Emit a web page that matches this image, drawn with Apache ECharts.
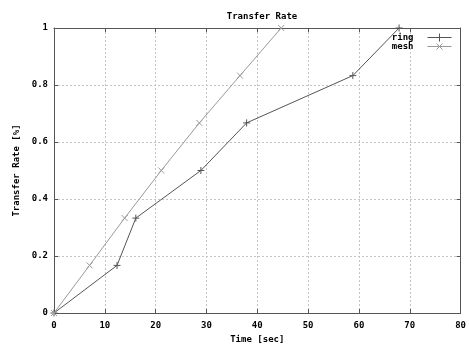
<!DOCTYPE html>
<html><head><meta charset="utf-8">
<script src="https://cdn.jsdelivr.net/npm/echarts@6/dist/echarts.min.js"></script>
<style>html,body{margin:0;padding:0;background:#fff}#c{width:469px;height:349px}</style>
</head><body><div id="c"></div>
<script>
var ringX = [0, 12.4, 16.1, 28.9, 37.9, 58.8, 67.9];
var ringY = [0, 0.167, 0.333, 0.5, 0.667, 0.833, 1];
var meshX = [0, 7.0, 13.9, 21.1, 28.6, 36.6, 44.7];
var meshY = [0, 0.167, 0.333, 0.5, 0.667, 0.833, 1];
var xTicks = [0, 10, 20, 30, 40, 50, 60, 70, 80];
var yTicks = [0, 0.2, 0.4, 0.6, 0.8, 1];
var seriesNames = ['ring', 'mesh'];

var FONT = 'DejaVu Sans Mono';
var plus = 'path://M0,5L10,5M5,0L5,10';
var cross = 'path://M0,0L10,10M0,10L10,0';
function pairs(xs, ys){ return xs.map(function(x,i){return [x, ys[i]];}); }
var chart = echarts.init(document.getElementById('c'), null, {renderer:'canvas'});
var lbl = {fontFamily: FONT, fontWeight: 'bold', fontSize: 9, color: '#000'};
var frame = {show: true, onZero: false, lineStyle: {color: '#555', width: 1}};
var tick = {show: true, inside: true, length: 4, lineStyle: {color: '#555'}};
chart.setOption({
  animation: false,
  title: {text: 'Transfer Rate', left: 257, top: 7, textAlign: 'center',
    textStyle: {fontFamily: FONT, fontWeight: 'bold', fontSize: 9, color: '#000'}},
  legend: {right: 10, top: 26, orient: 'vertical', align: 'right', itemWidth: 24, itemHeight: 8, itemGap: -3,
    textStyle: Object.assign({padding: [0, 9, 0, 0], lineHeight: 9}, lbl),
    data: [
      {name: seriesNames[0], icon: 'path://M0,5L24,5M12,1L12,9',
       itemStyle: {color: 'none', borderColor: '#555', borderWidth: 1}},
      {name: seriesNames[1], icon: 'path://M0,5L24,5M9,2L15,8M9,8L15,2',
       itemStyle: {color: 'none', borderColor: '#999', borderWidth: 1}}
    ]},
  grid: {left: 54, right: 8, top: 28, bottom: 28},
  xAxis: [{
    type: 'value', min: 0, max: 80, interval: 10,
    name: 'Time [sec]', nameLocation: 'middle', nameGap: 22,
    nameTextStyle: lbl,
    axisLine: frame, axisTick: tick,
    axisLabel: Object.assign({margin: 8, formatter: function(v){return xTicks.indexOf(v)>=0 ? String(v) : '';}}, lbl),
    splitLine: {show: true, lineStyle: {color: '#c4c4c4', type: [2,2], width: 1}}
  }, {
    type: 'value', min: 0, max: 80, interval: 10, position: 'top',
    axisLine: frame, axisTick: tick,
    axisLabel: {show: false}, splitLine: {show: false}
  }],
  yAxis: [{
    type: 'value', min: 0, max: 1, interval: 0.2,
    name: 'Transfer Rate [%]', nameLocation: 'middle', nameGap: 33, nameRotate: 90,
    nameTextStyle: lbl,
    axisLine: frame, axisTick: tick,
    axisLabel: Object.assign({margin: 6, formatter: function(v){ return (v===0||v===1) ? String(v) : v.toFixed(1); }}, lbl),
    splitLine: {show: true, lineStyle: {color: '#c4c4c4', type: [2,2], width: 1}}
  }, {
    type: 'value', min: 0, max: 1, interval: 0.2, position: 'right',
    axisLine: frame, axisTick: tick,
    axisLabel: {show: false}, splitLine: {show: false}
  }],
  series: [{
    name: seriesNames[0], type: 'line', data: pairs(ringX, ringY),
    symbol: plus, symbolSize: 7, showAllSymbol: true,
    lineStyle: {color: '#555', width: 1},
    itemStyle: {color: 'none', borderColor: '#555', borderWidth: 1}
  }, {
    name: seriesNames[1], type: 'line', data: pairs(meshX, meshY),
    symbol: cross, symbolSize: 6, showAllSymbol: true,
    lineStyle: {color: '#999', width: 1},
    itemStyle: {color: 'none', borderColor: '#999', borderWidth: 1}
  }]
});
</script></body></html>
